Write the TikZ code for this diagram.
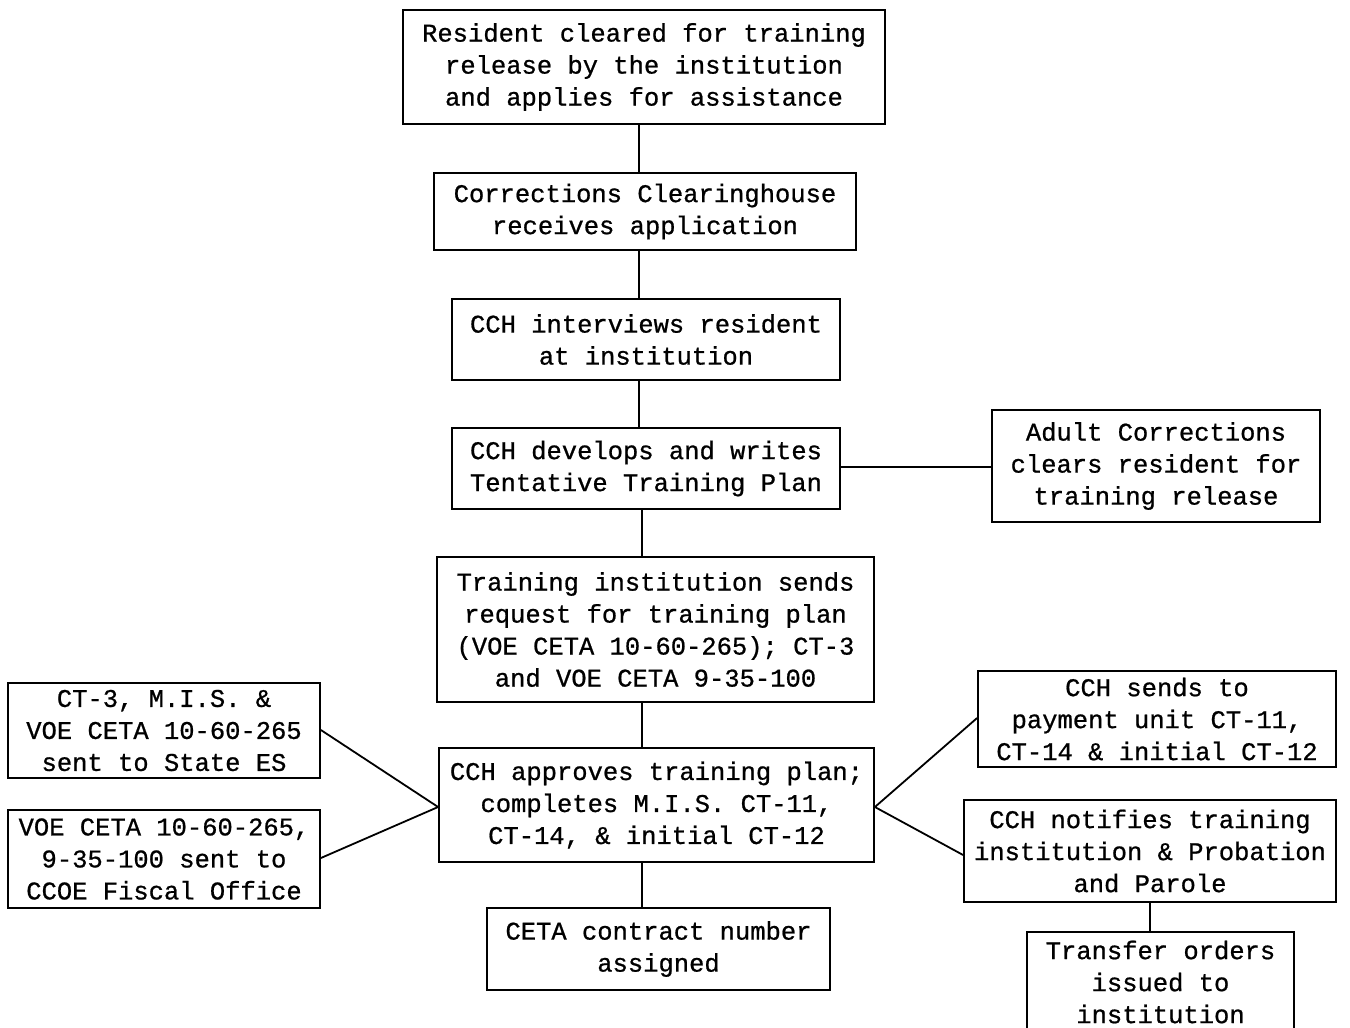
\documentclass[tikz,border=0pt]{standalone}
\usepackage{fontspec}
\setmonofont[FakeBold=0.8]{Liberation Mono}
\begin{document}
\begin{tikzpicture}[x=1pt,y=-1pt,
  box/.style={draw, line width=1.8pt, inner sep=0pt, align=center,
    font=\fontsize{25.5}{32}\selectfont\ttfamily},
  link/.style={line width=1.8pt}]
\useasboundingbox (0,0) rectangle (1350,1028);
\clip (0,0) rectangle (1350,1028);
\node[box, minimum width=482pt, minimum height=114pt] (b1) at (644,67)
  {Resident cleared for training\\release by the institution\\and applies for assistance};
\node[box, minimum width=422pt, minimum height=77pt] (b2) at (645,211.5)
  {Corrections Clearinghouse\\receives application};
\node[box, minimum width=388pt, minimum height=81pt] (b3) at (646,339.5)
  {CCH interviews resident\\at institution};
\node[box, minimum width=388pt, minimum height=81pt] (b4) at (646,468.5)
  {CCH develops and writes\\Tentative Training Plan};
\node[box, minimum width=328pt, minimum height=112pt] (b5) at (1156,466)
  {Adult Corrections\\clears resident for\\training release};
\node[box, minimum width=437pt, minimum height=145pt] (b6) at (655.5,629.5)
  {Training institution sends\\request for training plan\\(VOE CETA 10-60-265); CT-3\\and VOE CETA 9-35-100};
\node[box, minimum width=435pt, minimum height=114pt] (b7) at (656.5,805)
  {CCH approves training plan;\\completes M.I.S. CT-11,\\CT-14, \& initial CT-12};
\node[box, minimum width=312pt, minimum height=95pt] (b8) at (164,730.5)
  {CT-3, M.I.S. \&\\VOE CETA 10-60-265\\sent to State ES};
\node[box, minimum width=312pt, minimum height=98pt] (b9) at (164,859)
  {VOE CETA 10-60-265,\\9-35-100 sent to\\CCOE Fiscal Office};
\node[box, minimum width=358pt, minimum height=96pt] (b10) at (1157,719)
  {CCH sends to\\payment unit CT-11,\\CT-14 \& initial CT-12};
\node[box, minimum width=372pt, minimum height=102pt] (b11) at (1150,851)
  {CCH notifies training\\institution \& Probation\\and Parole};
\node[box, minimum width=343pt, minimum height=82pt] (b12) at (658.5,949)
  {CETA contract number\\assigned};
\node[box, minimum width=267pt, minimum height=100pt] (b13) at (1160.5,982)
  {Transfer orders\\issued to\\institution};
\coordinate (sa) at (639,0);
\coordinate (sb) at (642,0);
\coordinate (sc) at (1150,0);
\draw[link] (b1.south -| sa) -- (b2.north -| sa);
\draw[link] (b2.south -| sa) -- (b3.north -| sa);
\draw[link] (b3.south -| sa) -- (b4.north -| sa);
\draw[link] (b4.south -| sb) -- (b6.north -| sb);
\draw[link] (b6.south -| sb) -- (b7.north -| sb);
\draw[link] (b7.south -| sb) -- (b12.north -| sb);
\coordinate (h45) at (0,467);
\draw[link] (b4.east |- h45) -- (b5.west |- h45);
\coordinate (l8) at (0,730);
\coordinate (l9) at (0,858);
\coordinate (r10) at (0,718);
\coordinate (r11) at (0,855);
\coordinate (m7) at (0,807);
\draw[link] (b8.east |- l8) -- (b7.west |- m7) -- (b9.east |- l9);
\draw[link] (b10.west |- r10) -- (b7.east |- m7) -- (b11.west |- r11);
\draw[link] (b11.south -| sc) -- (b13.north -| sc);
\end{tikzpicture}
\end{document}
